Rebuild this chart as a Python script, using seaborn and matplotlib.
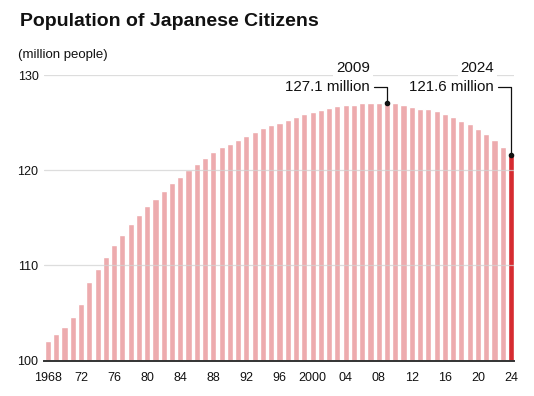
import matplotlib
matplotlib.use("Agg")
import matplotlib.pyplot as plt
import seaborn as sns
import pandas as pd

years = list(range(1968, 2025))
population = [
    102.0, 102.8, 103.5, 104.6, 105.9, 108.2, 109.6, 110.9, 112.1, 113.2,
    114.3, 115.3, 116.2, 117.0, 117.8, 118.6, 119.3, 120.0, 120.7, 121.3,
    121.9, 122.4, 122.8, 123.2, 123.6, 124.0, 124.4, 124.7, 125.0, 125.3,
    125.6, 125.9, 126.1, 126.3, 126.5, 126.7, 126.8, 126.9, 127.06, 127.05,
    127.07, 127.1, 127.06, 126.9, 126.66, 126.4, 126.45, 126.2, 125.9, 125.6,
    125.2, 124.8, 124.3, 123.8, 123.2, 122.4, 121.6,
]
tick_years = [1968, 1972, 1976, 1980, 1984, 1988, 1992, 1996, 2000, 2004,
              2008, 2012, 2016, 2020, 2024]
tick_labels = ["1968", "72", "76", "80", "84", "88", "92", "96", "2000", "04",
               "08", "12", "16", "20", "24"]
y_ticks = [100, 110, 120, 130]
callouts = [(2009, "2009", "127.1 million"), (2024, "2024", "121.6 million")]

PINK = "#EDABAE"
RED = "#D62B30"
TXT = "#111111"

df = pd.DataFrame({"year": [str(y) for y in years], "pop": population})
colors = {str(y): (RED if y == 2024 else PINK) for y in years}

sns.set_style("white")
plt.rcParams["font.family"] = ["Liberation Sans", "DejaVu Sans"]

W, H = 534, 396
fig = plt.figure(figsize=(W / 100, H / 100), dpi=100)
ax = fig.add_axes([44 / W, 1 - 360.5 / H, (514 - 44) / W, (360.5 - 75) / H])

sns.barplot(data=df, x="year", y="pop", hue="year", palette=colors,
            legend=False, width=0.74, saturation=1, ax=ax, zorder=2)

ax.set_ylim(100, 130)
ax.set_xlim(-0.48, len(years) - 1 + 0.36)

for v in y_ticks[1:]:
    ax.axhline(v, color="#d2d2d2", lw=0.9, zorder=3, alpha=0.75)

for s in ["top", "right", "left"]:
    ax.spines[s].set_visible(False)
ax.spines["bottom"].set_color("#333333")
ax.spines["bottom"].set_linewidth(1.4)
ax.spines["bottom"].set_zorder(5)

ax.set_yticks(y_ticks)
ax.set_yticklabels([str(v) for v in y_ticks], fontsize=9, color=TXT)
ax.tick_params(axis="y", length=0, pad=4)
ax.set_xticks([years.index(y) for y in tick_years])
ax.set_xticklabels(tick_labels, fontsize=9, color=TXT)
ax.tick_params(axis="x", length=0, pad=8)
ax.set_xlabel("")
ax.set_ylabel("")

px_per_unit = (360.5 - 75) / 30
y_line = 130 - (86.5 - 75) / px_per_unit
y_year = 130 + (75 - 68) / px_per_unit
for yr, ylab, vlab in callouts:
    i = years.index(yr)
    val = population[i]
    ax.plot([i - 1.55, i, i], [y_line, y_line, val], color="#111111", lw=0.9,
            clip_on=False, zorder=6)
    ax.plot([i], [val], "o", color="#111111", ms=3, clip_on=False, zorder=7)
    ax.text(i - 2.05, y_line, vlab, ha="right", va="center", fontsize=10.9,
            color=TXT, clip_on=False, zorder=6)
    ax.text(i - 2.05, y_year, ylab, ha="right", va="center", fontsize=10.9,
            color=TXT, clip_on=False, zorder=6,
            bbox=dict(facecolor="white", edgecolor="none", pad=2))

fig.text(20 / W, 1 - 22 / H, "Population of Japanese Citizens", fontsize=14,
         fontweight="bold", color=TXT, ha="left", va="center")
fig.text(18 / W, 1 - 55 / H, "(million people)", fontsize=9.5, color=TXT,
         ha="left", va="center")

fig.savefig("out.png", dpi=100, facecolor="white")
